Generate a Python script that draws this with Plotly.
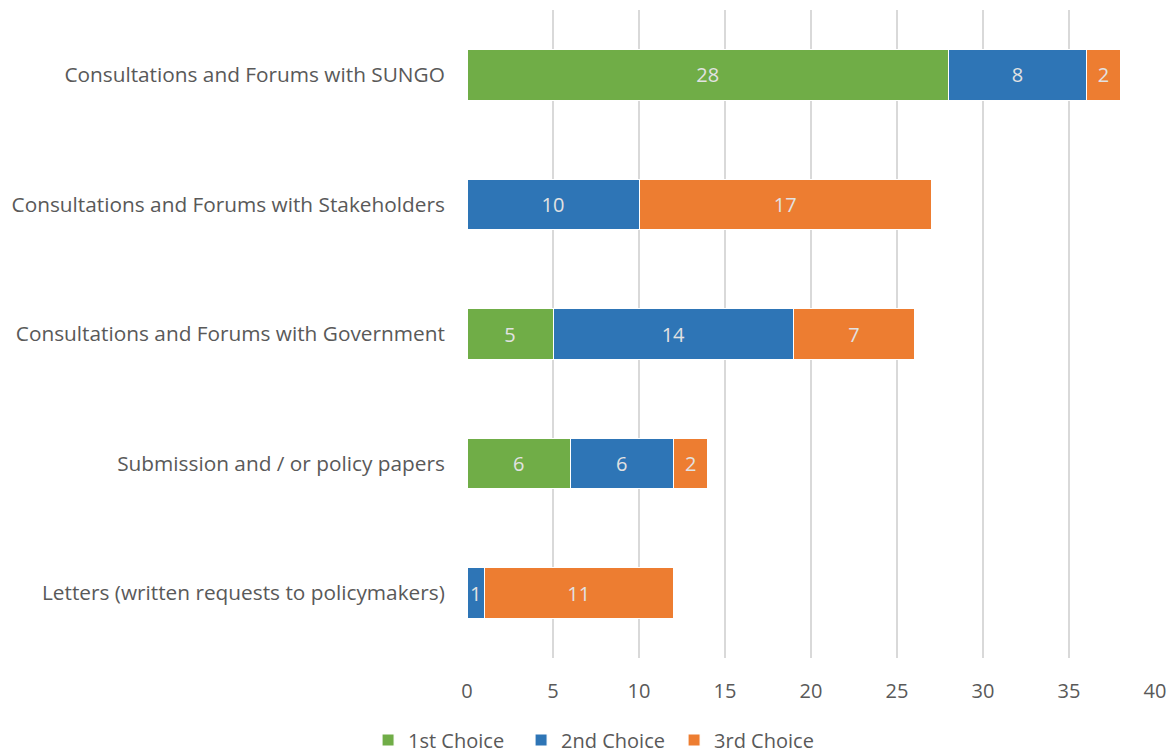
import plotly.graph_objects as go

categories = [
    "Consultations and Forums with SUNGO",
    "Consultations and Forums with Stakeholders",
    "Consultations and Forums with Government",
    "Submission and / or policy papers",
    "Letters (written requests to policymakers)",
]
first_choice = [28, None, 5, 6, None]
second_choice = [8, 10, 14, 6, 1]
third_choice = [2, 17, 7, 2, 11]
x_ticks = [0, 5, 10, 15, 20, 25, 30, 35, 40]

series = [
    ("1st Choice", first_choice, "#70AD47"),
    ("2nd Choice", second_choice, "#2E75B6"),
    ("3rd Choice", third_choice, "#ED7D31"),
]

FONT = "Open Sans"

fig = go.Figure()
for name, vals, color in series:
    fig.add_trace(go.Bar(
        y=categories, x=vals, name=name, orientation="h",
        marker=dict(color=color, line=dict(color="white", width=1)),
        text=[str(v) if v else "" for v in vals],
        textposition="inside", insidetextanchor="middle",
        textfont=dict(color="#E2E2E2", size=20, family=FONT),
        constraintext="none",
        width=0.39,
    ))

fig.update_layout(
    barmode="stack",
    width=1174, height=755,
    margin=dict(l=467, r=19, t=10, b=97),
    plot_bgcolor="white", paper_bgcolor="white",
    font=dict(family=FONT, color="#595959", size=20),
    xaxis=dict(range=[0, 40], tickvals=x_ticks, showgrid=True,
               gridcolor="#D9D9D9", gridwidth=2, zeroline=False,
               tickfont=dict(size=20, color="#595959"), ticks="outside",
               ticklen=15, tickcolor="rgba(0,0,0,0)", automargin=False),
    yaxis=dict(autorange="reversed", showgrid=False, zeroline=False,
               tickfont=dict(size=20.8, color="#595959"), ticks="outside",
               ticklen=17, tickcolor="rgba(0,0,0,0)", automargin=False),
    legend=dict(orientation="h", xref="container", yref="container",
                x=0.509, xanchor="center", y=1 - 740 / 755, yanchor="middle",
                font=dict(size=20, color="#595959"),
                entrywidth=108, traceorder="normal"),
    showlegend=True,
)

fig.write_html("out.html")
